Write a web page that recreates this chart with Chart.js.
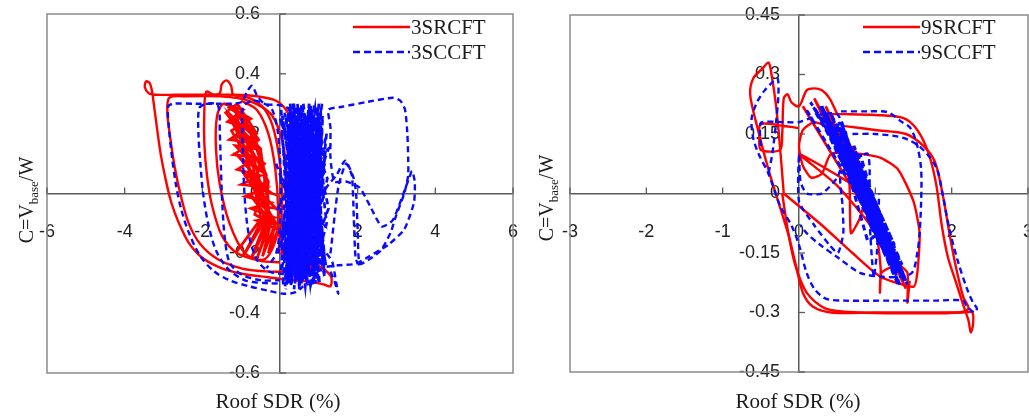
<!DOCTYPE html>
<html><head><meta charset="utf-8">
<script src="https://cdn.jsdelivr.net/npm/chart.js@4.4.1/dist/chart.umd.min.js"></script>
<style>
html,body{margin:0;padding:0;background:#fff;}
#wrap{position:relative;width:1029px;height:416px;overflow:hidden;background:#fff;}
#c1{position:absolute;left:0;top:0;}
#c2{position:absolute;left:520px;top:0;}
</style></head><body>
<div id="wrap"><canvas id="c1" width="520" height="416"></canvas><canvas id="c2" width="509" height="416"></canvas></div>
<script>
// ---------- Left panel: 3-storey frames ----------
const leftSeriesNames = ['3SRCFT', '3SCCFT'];
const leftXTicks = [-6, -4, -2, 0, 2, 4, 6];
const leftXTickLabels = ['-6', '-4', '-2', '0', '2', '4', '6'];
const leftYTicks = [-0.6, -0.4, -0.2, 0, 0.2, 0.4, 0.6];
const leftYTickLabels = ['-0.6', '-0.4', '-0.2', '0', '0.2', '0.4', '0.6'];

// 3SRCFT (roof SDR %, C)
const sr3Outer = [[0.35,0.18],[0.2,0.27],[-0.1,0.31],[-0.6,0.325],[-1.2,0.33],[-2.0,0.33],[-2.7,0.33],[-3.2,0.33],[-3.38,0.335],[-3.48,0.355],[-3.45,0.375],[-3.36,0.37],[-3.3,0.345],[-3.25,0.3],[-3.17,0.22],[-3.07,0.13],[-2.95,0.05],[-2.8,-0.03],[-2.6,-0.1],[-2.35,-0.165],[-2.0,-0.215],[-1.5,-0.25],[-0.9,-0.27],[-0.3,-0.28],[0.3,-0.29],[0.8,-0.295],[1.15,-0.305],[1.3,-0.31],[1.32,-0.28],[1.15,-0.255],[0.9,-0.235],[0.75,-0.22]];
const sr3Loop2 = [[0.3,-0.2],[0.2,0.0],[0.1,0.15],[-0.2,0.26],[-0.8,0.31],[-1.6,0.325],[-2.4,0.325],[-2.85,0.32],[-2.9,0.27],[-2.82,0.18],[-2.7,0.08],[-2.55,-0.01],[-2.35,-0.1],[-2.05,-0.17],[-1.6,-0.22],[-1.0,-0.25],[-0.4,-0.26],[0.1,-0.26],[0.4,-0.24]];
const sr3Loop3 = [[0.0,-0.23],[-0.5,-0.225],[-1.1,-0.2],[-1.5,-0.14],[-1.75,-0.04],[-1.88,0.06],[-1.95,0.17],[-1.95,0.27],[-1.9,0.34],[-1.7,0.33],[-1.55,0.335],[-1.5,0.365],[-1.38,0.378],[-1.26,0.36],[-1.2,0.33],[-0.8,0.32],[-0.45,0.29],[-0.2,0.23],[-0.02,0.12],[0.05,0.0],[0.02,-0.12],[-0.05,-0.2]];
const sr3Arcs = [[-1.0,0.31],[-0.6,0.28],[-0.3,0.2],[-0.12,0.08],[-0.05,-0.05],[-0.1,-0.15],[-0.4,-0.22],[-0.9,-0.2],[-1.3,-0.1],[-1.55,0.03],[-1.65,0.15],[-1.62,0.26],[-1.45,0.3],[-1.1,0.27],[-0.7,0.2],[-0.45,0.1],[-0.3,-0.02],[-0.35,-0.12]];
const sr3Dense = [[-1.45,0.3],[-0.95,0.28],[-1.35,0.24],[-0.85,0.22],[-1.3,0.18],[-0.7,0.17],[-1.2,0.13],[-0.6,0.12],[-1.1,0.08],[-0.5,0.06],[-1.0,0.03],[-0.35,0.02],[-0.9,-0.01],[-0.25,-0.03],[-0.75,-0.05],[-0.15,-0.08],[-0.6,-0.09],[-0.05,-0.12],[-0.4,-0.1],[-0.3,0.04],[-0.95,0.2],[-1.4,0.27],[-1.1,0.3],[-0.6,0.2],[-1.0,0.17],[-0.45,0.1],[-0.85,0.06],[-0.2,0.0],[-0.65,0.02],[-0.1,-0.05],[-0.55,-0.04],[-0.85,0.12],[-1.25,0.21],[-0.75,0.25],[-1.15,0.28],[-0.8,0.08],[-0.4,-0.02],[-0.7,0.13],[-1.05,0.22],[-0.5,0.15],[-0.25,-0.1],[-0.3,-0.05],[-1.15,-0.2],[-0.35,-0.06],[-0.95,-0.21],[-0.3,-0.07],[-0.75,-0.22],[-0.25,-0.08],[-0.6,-0.22],[-0.2,-0.08],[-0.45,-0.21],[-0.12,-0.1],[-0.3,-0.2],[-0.05,-0.12],[0.05,-0.17],[0.2,-0.17],[0.2,-0.2],[0.05,-0.2],[0.05,-0.17],[0.3,-0.25],[0.5,0.05],[0.4,-0.28],[0.7,-0.1],[0.55,-0.3],[0.9,0.0],[0.8,-0.27],[0.35,0.15],[0.6,-0.2]];
const sr3Dense2 = [[-1.3,0.3],[-0.75,0.2],[-1.25,0.26],[-0.65,0.15],[-1.15,0.16],[-0.55,0.08],[-1.05,0.12],[-0.45,0.03],[-0.95,0.07],[-0.3,-0.06],[-0.8,0.0],[-0.2,-0.1],[-0.65,-0.07],[-0.35,0.06],[-0.9,0.25],[-1.35,0.29],[-1.0,0.26],[-0.55,0.18],[-0.95,0.14],[-0.4,0.1],[-0.75,0.04],[-0.1,-0.1],[-0.5,-0.08],[-0.7,0.1],[-1.2,0.23],[-0.85,0.18]];

// 3SCCFT
const sc3Left1 = [[0.3,0.28],[0.0,0.295],[-0.4,0.3],[-0.6,0.33],[-0.72,0.36],[-0.85,0.34],[-1.0,0.305],[-1.6,0.3],[-2.2,0.3],[-2.75,0.3],[-2.88,0.29],[-2.86,0.22],[-2.78,0.12],[-2.68,0.03],[-2.55,-0.05],[-2.35,-0.13],[-2.05,-0.21],[-1.7,-0.26],[-1.3,-0.29],[-0.8,-0.31],[-0.3,-0.325],[0.1,-0.335],[0.4,-0.33],[0.6,-0.31]];
const sc3Left2 = [[0.2,-0.3],[-0.3,-0.3],[-0.9,-0.29],[-1.35,-0.25],[-1.65,-0.19],[-1.85,-0.1],[-1.98,0.0],[-2.05,0.1],[-2.1,0.2],[-2.08,0.285],[-1.9,0.3],[-1.6,0.295],[-1.55,0.2],[-1.52,0.08],[-1.48,-0.05],[-1.42,-0.15],[-1.3,-0.23],[-1.0,-0.27],[-0.5,-0.29],[0.0,-0.29]];
const sc3Left3 = [[0.1,-0.27],[-0.3,-0.26],[-0.6,-0.22],[-0.8,-0.14],[-0.9,-0.03],[-0.95,0.1],[-0.97,0.22],[-0.95,0.29],[-0.7,0.31],[-0.4,0.3],[-0.2,0.28],[-0.05,0.2],[0.02,0.05],[0.0,-0.1],[-0.1,-0.2],[-0.35,-0.25]];
const sc3Dense = [[0.05,0.2],[0.4,-0.28],[0.2,0.27],[0.7,-0.3],[0.35,0.22],[0.9,-0.26],[0.5,0.29],[1.0,-0.2],[0.6,0.25],[0.3,-0.3],[0.8,0.28],[1.1,-0.22],[0.7,0.2],[0.15,-0.27],[0.45,0.3],[0.95,-0.29],[1.05,0.18],[0.55,-0.25],[0.25,0.2],[0.85,-0.31],[1.15,0.1],[0.65,-0.15],[0.4,0.26],[0.75,-0.27],[1.0,0.27],[0.5,-0.32],[0.2,0.15],[0.6,-0.2],[0.9,0.24],[1.2,-0.1],[0.8,-0.3],[0.3,0.28],[0.1,-0.2],[0.55,0.22],[1.05,-0.26],[0.75,0.3],[0.35,-0.22],[0.65,0.18],[0.95,-0.2],[1.1,0.26],[0.45,-0.29],[0.15,0.1],[0.85,0.2],[1.25,-0.05],[0.6,-0.28],[0.25,0.25],[0.7,-0.22],[1.0,0.12],[0.4,-0.15],[0.9,0.28],[1.15,-0.28],[0.5,0.15],[0.2,-0.25],[0.8,0.25],[0.35,-0.1],[1.0,0.3],[0.65,-0.31],[0.12,0.22],[0.55,-0.18],[1.2,0.2],[0.85,-0.24],[0.45,0.08],[0.75,-0.12],[0.3,0.12],[1.05,-0.15],[0.6,0.3]];
const sc3Dense2 = [[0.08,-0.3],[0.32,0.25],[0.18,-0.22],[0.62,0.27],[0.28,-0.31],[0.72,0.24],[0.42,-0.26],[0.98,0.22],[0.58,-0.29],[0.88,0.3],[0.68,-0.26],[1.08,0.22],[0.78,-0.2],[0.22,0.29],[0.92,-0.3],[0.38,0.18],[1.12,-0.18],[0.52,0.26],[0.02,-0.15],[0.48,0.2],[0.82,-0.28],[0.12,0.27],[1.02,-0.3],[0.66,0.22],[0.26,-0.24],[0.96,0.16],[0.36,-0.32],[0.76,0.14],[1.18,-0.24],[0.56,0.3],[0.16,-0.12],[0.86,0.1],[0.46,-0.22],[1.08,0.3],[0.62,-0.24],[0.06,0.26],[0.72,-0.31],[0.32,0.16],[0.94,-0.14],[0.52,0.28],[1.22,0.05],[0.82,-0.18],[0.42,0.24],[0.22,-0.3],[0.68,0.26],[1.0,-0.3],[0.58,0.2],[0.14,-0.28],[0.78,0.3],[1.14,-0.2],[0.36,0.3],[0.64,-0.26],[0.9,0.18],[0.5,-0.31],[0.26,0.3],[0.74,-0.18],[1.04,0.24],[0.44,-0.26],[0.84,0.28],[0.18,-0.18],[0.6,0.22]];
const sc3Dense3 = [[-0.1,0.1],[0.3,-0.05],[-0.05,-0.2],[0.5,0.1],[0.0,0.25],[0.65,0.0],[0.1,-0.12],[0.95,0.05],[0.2,0.0],[1.1,-0.1],[0.4,0.05],[1.25,0.15],[0.7,-0.05],[0.05,0.05],[0.9,-0.1],[0.3,0.2],[1.15,0.0],[-0.05,-0.05],[0.6,0.12],[0.15,-0.32]];
const sc3Dense4 = [[0.03,0.28],[0.27,-0.29],[0.47,0.27],[0.13,-0.31],[0.57,0.24],[0.37,-0.27],[0.87,0.26],[0.67,-0.29],[0.97,0.29],[0.77,-0.24],[1.07,0.2],[0.87,-0.3],[0.33,0.3],[0.53,-0.3],[0.73,0.28],[0.93,-0.25],[0.63,0.26],[0.43,-0.24],[0.23,0.27],[0.03,-0.26],[0.83,0.22],[1.13,-0.25],[0.48,0.29],[0.18,-0.3],[0.98,0.25],[0.58,-0.27],[0.38,0.22],[0.78,-0.3],[1.18,0.15],[0.68,-0.2]];
const sc3Right = [[1.2,-0.245],[1.5,-0.24],[1.95,-0.235],[2.3,-0.21],[2.8,-0.17],[3.2,-0.12],[3.45,-0.03],[3.47,0.04],[3.4,0.075],[3.32,0.05],[3.15,-0.01],[2.9,-0.09],[2.62,-0.11],[2.35,-0.05],[2.05,0.02],[1.7,0.04],[1.4,0.04],[1.3,0.12],[1.3,0.22],[1.25,0.28],[1.6,0.29],[2.2,0.305],[2.9,0.32],[3.1,0.31],[3.22,0.28],[3.28,0.2],[3.3,0.12],[3.3,0.06],[3.2,0.0],[3.0,-0.07],[2.85,-0.13],[2.6,-0.19],[2.3,-0.22],[2.05,-0.235],[2.0,-0.12],[1.96,0.0],[1.9,0.05],[1.68,0.11],[1.45,0.06],[1.25,0.03],[1.1,0.0]];
const sc3Peak = [[1.3,-0.2],[1.5,0.02],[1.7,0.1],[1.85,0.06],[1.9,-0.08],[1.95,-0.22],[2.05,-0.24]];
const sc3Tail = [[1.2,-0.2],[1.35,-0.23],[1.45,-0.3],[1.5,-0.335],[1.42,-0.3],[1.3,-0.26]];

// ---------- Right panel: 9-storey frames ----------
const rightSeriesNames = ['9SRCFT', '9SCCFT'];
const rightXTicks = [-3, -2, -1, 0, 1, 2, 3];
const rightXTickLabels = ['-3', '-2', '-1', '0', '1', '2', '3'];
const rightYTicks = [-0.45, -0.3, -0.15, 0, 0.15, 0.3, 0.45];
const rightYTickLabels = ['-0.45', '-0.3', '-0.15', '0', '0.15', '0.3', '0.45'];

// 9SRCFT
const sr9Outer = [[0.3,0.2],[0.6,0.2],[1.0,0.198],[1.37,0.19],[1.55,0.16],[1.7,0.1],[1.8,0.02],[1.87,-0.08],[1.95,-0.16],[2.05,-0.22],[2.15,-0.28],[2.22,-0.32],[2.25,-0.35],[2.28,-0.33],[2.27,-0.3],[2.15,-0.3],[1.6,-0.3],[1.0,-0.3],[0.42,-0.3],[0.18,-0.285],[0.05,-0.25],[-0.03,-0.19],[-0.13,-0.11],[-0.24,-0.04],[-0.4,0.06],[-0.55,0.17],[-0.64,0.25],[-0.6,0.29],[-0.48,0.315],[-0.4,0.33],[-0.36,0.3],[-0.3,0.22],[-0.25,0.12],[-0.2,0.0]];
const sr9Loop2 = [[-0.22,0.0],[-0.14,-0.1],[-0.05,-0.18],[0.1,-0.25],[0.35,-0.29],[0.8,-0.3],[1.5,-0.302],[2.1,-0.3],[2.22,-0.29],[2.15,-0.26],[2.05,-0.18],[1.97,-0.1],[1.88,0.0],[1.78,0.08],[1.63,0.12],[1.4,0.15],[1.0,0.16],[0.6,0.17]];
const sr9Top = [[0.0,0.165],[-0.2,0.17],[-0.5,0.175],[-0.52,0.14],[-0.5,0.11],[-0.25,0.11],[-0.22,0.15],[-0.2,0.24],[-0.15,0.25],[-0.1,0.23],[0.0,0.22],[0.1,0.26],[0.2,0.265],[0.3,0.26],[0.4,0.24],[0.5,0.2]];
const sr9Inner = [[-0.2,0.0],[0.3,-0.08],[0.7,-0.15],[1.07,-0.21],[1.5,-0.235],[1.55,-0.2],[1.58,-0.1],[1.5,-0.02],[1.3,0.06],[1.07,0.09],[0.8,0.1],[0.42,0.1],[0.3,0.05],[0.16,0.04],[0.05,0.07],[0.0,0.12],[0.05,0.16],[0.2,0.18],[0.42,0.16],[0.65,0.05],[0.68,-0.1],[0.8,-0.06],[0.85,0.0],[0.0,0.1],[0.5,0.02],[1.0,-0.1],[1.07,-0.19],[1.06,-0.25],[1.08,-0.2],[1.3,-0.18],[1.42,-0.2],[1.42,-0.275],[1.45,-0.22]];
const sr9Dense = [[0.05,0.22],[0.9,-0.05],[0.3,0.2],[1.15,-0.14],[0.45,0.16],[1.3,-0.2],[0.6,0.1],[1.4,-0.24],[0.75,0.04],[0.2,0.24],[1.0,-0.08],[0.5,0.17],[1.2,-0.17],[0.7,0.12],[1.35,-0.22],[0.85,0.02],[0.35,0.22],[1.1,-0.12]];

// 9SCCFT
const sc9Outer = [[0.55,0.207],[0.9,0.207],[1.16,0.205],[1.35,0.18],[1.46,0.165],[1.55,0.12],[1.6,0.06],[1.6,-0.02],[1.58,-0.1],[1.55,-0.15],[1.48,-0.2],[1.3,-0.21],[1.1,-0.21],[0.8,-0.2],[0.5,-0.16],[0.28,-0.13],[0.1,-0.1],[0.02,-0.08]];
const sc9Big = [[0.7,0.15],[1.0,0.15],[1.37,0.14],[1.6,0.115],[1.8,0.065],[1.88,0.0],[1.97,-0.09],[2.08,-0.17],[2.2,-0.24],[2.28,-0.275],[2.33,-0.29],[2.3,-0.3],[2.2,-0.285],[2.15,-0.27],[1.8,-0.27],[1.2,-0.27],[0.6,-0.27],[0.35,-0.265],[0.2,-0.24],[0.1,-0.2],[0.0,-0.13],[-0.1,-0.08],[-0.25,-0.03],[-0.4,0.05],[-0.53,0.1],[-0.6,0.14],[-0.62,0.19],[-0.55,0.23],[-0.45,0.26],[-0.35,0.28],[-0.28,0.29],[-0.27,0.25],[-0.3,0.18],[-0.35,0.1],[-0.4,0.05]];
const sc9Small = [[-0.5,0.12],[-0.5,0.178],[-0.2,0.18],[0.0,0.18],[0.3,0.2],[0.5,0.2],[0.62,0.15],[0.6,0.1],[0.5,0.04],[0.3,0.0],[0.1,0.0],[0.02,0.03],[0.0,0.1],[0.0,-0.02],[0.2,-0.08],[0.4,-0.13],[0.51,-0.15],[0.58,-0.1],[0.57,-0.03],[0.55,0.05],[0.9,0.1],[0.92,-0.05],[0.95,-0.15],[0.98,-0.21],[1.02,-0.15],[1.05,0.0]];
const sc9Dense = [[0.1,0.21],[0.85,-0.03],[0.25,0.2],[1.05,-0.1],[0.4,0.18],[1.2,-0.16],[0.55,0.13],[1.35,-0.21],[0.7,0.07],[1.42,-0.23],[0.8,0.02],[0.3,0.22],[0.95,-0.06],[0.5,0.15],[1.15,-0.13],[0.65,0.12],[1.3,-0.19],[0.75,0.05],[1.25,-0.2],[0.6,0.1],[0.15,0.23],[0.9,-0.01],[0.45,0.17],[1.1,-0.11],[0.35,0.19],[1.0,-0.06],[0.55,0.09],[1.38,-0.22],[0.85,0.0],[0.2,0.21]];
const sc9Dense2 = [[0.3,0.19],[1.1,-0.14],[0.45,0.14],[1.28,-0.2],[0.62,0.08],[1.4,-0.22],[0.52,0.18],[1.22,-0.18],[0.4,0.16],[1.02,-0.08],[0.68,0.1],[1.32,-0.23],[0.72,0.02],[0.28,0.22],[0.98,-0.1],[0.58,0.14],[1.18,-0.15],[0.82,0.05],[1.36,-0.2],[0.48,0.11],[0.9,-0.04],[0.36,0.2],[1.06,-0.13],[0.66,0.06],[1.26,-0.17],[0.78,-0.01],[0.42,0.18],[1.14,-0.16]];
const sc9Dense3 = [[0.35,0.2],[1.0,-0.1],[0.55,0.18],[1.3,-0.2],[0.65,0.1],[1.2,-0.12],[0.5,0.12],[1.0,-0.02],[0.42,0.2],[1.15,-0.15],[0.78,0.08],[1.38,-0.21],[0.7,0.05],[0.98,-0.08],[0.6,0.15],[1.25,-0.13],[0.88,0.03],[1.35,-0.18],[0.95,-0.03],[0.52,0.17],[1.08,-0.06],[0.72,0.12],[1.22,-0.19],[0.82,-0.02],[0.45,0.15],[1.12,-0.09],[0.9,-0.12],[0.62,0.07],[1.3,-0.23],[0.8,0.1]];

// ---------- drawing ----------
const RED = '#ff0000', BLUE = '#0a0aff';
const toPts = arr => arr.map(([x, y]) => ({x, y}));
function ds(arr, color, dashed, tension, width) {
  return {
    data: toPts(arr), showLine: true, borderColor: color, backgroundColor: color,
    borderWidth: width || 2.4, borderDash: dashed ? [6, 4] : [], pointRadius: 0, pointHoverRadius: 0,
    tension: tension, order: dashed ? 1 : 2, fill: false
  };
}

const decor = {
  id: 'decor',
  beforeDatasetsDraw(chart, args, o) {
    const {ctx, chartArea: a, scales: {x, y}} = chart;
    ctx.save();
    ctx.strokeStyle = '#8a8a8a'; ctx.lineWidth = 1.5;
    ctx.strokeRect(a.left, a.top, a.right - a.left, a.bottom - a.top);
    ctx.strokeStyle = '#5a5a5a'; ctx.lineWidth = 1.3;
    const x0 = x.getPixelForValue(0), y0 = y.getPixelForValue(0);
    x.ticks.forEach(t => { const p = x.getPixelForValue(t.value); ctx.beginPath(); ctx.moveTo(p, y0); ctx.lineTo(p, y0 - 6); ctx.stroke(); });
    y.ticks.forEach(t => { const p = y.getPixelForValue(t.value); ctx.beginPath(); ctx.moveTo(x0, p); ctx.lineTo(x0 + 6, p); ctx.stroke(); });
    ctx.restore();
  },
  afterDraw(chart, args, o) {
    const ctx = chart.ctx;
    ctx.save();
    ctx.fillStyle = '#1a1a1a';
    ctx.font = '21px "Liberation Serif", "Times New Roman", serif';
    ctx.textAlign = 'center'; ctx.textBaseline = 'alphabetic';
    ctx.fillText('Roof SDR (%)', o.xTitleX, 408);
    ctx.translate(o.yTitleX, o.yTitleY);
    ctx.rotate(-Math.PI / 2);
    const fMain = '20px "Liberation Serif", serif', fSub = '13px "Liberation Serif", serif';
    ctx.font = fMain; const w1 = ctx.measureText('C=V').width, w3 = ctx.measureText('/W').width;
    ctx.font = fSub; const w2 = ctx.measureText('base').width;
    let sx = -(w1 + w2 + w3) / 2;
    ctx.textAlign = 'left';
    ctx.font = fMain; ctx.fillText('C=V', sx, 0); sx += w1;
    ctx.font = fSub; ctx.fillText('base', sx, 5); sx += w2;
    ctx.font = fMain; ctx.fillText('/W', sx, 0);
    ctx.restore();
    ctx.save();
    ctx.font = '21px "Liberation Serif", serif';
    ctx.textBaseline = 'middle'; ctx.textAlign = 'left'; ctx.fillStyle = '#1a1a1a';
    o.legend.forEach((it, i) => {
      const yy = 27 + i * 25;
      ctx.strokeStyle = it.color; ctx.lineWidth = 2.6;
      ctx.setLineDash(it.dashed ? [7, 4] : []);
      ctx.beginPath(); ctx.moveTo(o.legX, yy); ctx.lineTo(o.legX + 57, yy); ctx.stroke();
      ctx.fillText(it.name, o.legX + 58, yy + 1);
    });
    ctx.restore();
  }
};

function zeroFit(s, horiz) {
  if (horiz) s.height = 0; else s.width = 0;
  s.paddingLeft = 0; s.paddingRight = 0; s.paddingTop = 0; s.paddingBottom = 0;
}

function makeChart(id, datasets, xr, yr, xt, xtl, yt, ytl, pad, ygap, plugOpts) {
  return new Chart(document.getElementById(id), {
    type: 'scatter',
    data: {datasets},
    plugins: [decor],
    options: {
      responsive: false, animation: false, devicePixelRatio: 1,
      layout: {padding: pad},
      plugins: {legend: {display: false}, tooltip: {enabled: false}, decor: plugOpts},
      scales: {
        x: {
          type: 'linear', min: xr[0], max: xr[1], position: {y: 0},
          afterBuildTicks: s => { s.ticks = xt.map(v => ({value: v})); },
          afterFit: s => zeroFit(s, true),
          grid: {display: true, drawOnChartArea: false, drawTicks: false},
          border: {display: true, color: '#5a5a5a', width: 1.5},
          ticks: {padding: 0, autoSkip: false, maxRotation: 0, color: '#222',
            font: {family: '"Liberation Sans", Arial, sans-serif', size: 18, lineHeight: 4.3},
            callback: (v, i) => xtl[i]}
        },
        y: {
          type: 'linear', min: yr[0], max: yr[1], position: {x: 0},
          afterBuildTicks: s => { s.ticks = yt.map(v => ({value: v})); },
          afterFit: s => zeroFit(s, false),
          grid: {display: true, drawOnChartArea: false, drawTicks: false},
          border: {display: true, color: '#5a5a5a', width: 1.5},
          ticks: {padding: 0, autoSkip: false, color: '#222',
            font: {family: '"Liberation Sans", Arial, sans-serif', size: 18},
            callback: (v, i) => ytl[i] + ygap}
        }
      }
    }
  });
}

const leftDatasets = [
  ds(sr3Dense, RED, false, 0, 2.7), ds(sr3Dense2, RED, false, 0, 2.7), ds(sr3Outer, RED, false, 0.3), ds(sr3Loop2, RED, false, 0.3),
  ds(sr3Loop3, RED, false, 0.3), ds(sr3Arcs, RED, false, 0.3),
  ds(sc3Left1, BLUE, true, 0.3), ds(sc3Left2, BLUE, true, 0.3), ds(sc3Left3, BLUE, true, 0.3),
  ds(sc3Dense, BLUE, true, 0, 2.7), ds(sc3Dense2, BLUE, true, 0, 2.7), ds(sc3Dense3, BLUE, true, 0, 2.7), ds(sc3Dense4, BLUE, true, 0, 2.7),
  ds(sc3Right, BLUE, true, 0.2), ds(sc3Peak, BLUE, true, 0.2), ds(sc3Tail, BLUE, true, 0.2)
];
const rightDatasets = [
  ds(sr9Dense, RED, false, 0, 2.7), ds(sr9Outer, RED, false, 0.3), ds(sr9Loop2, RED, false, 0.3),
  ds(sr9Top, RED, false, 0.3), ds(sr9Inner, RED, false, 0.2),
  ds(sc9Outer, BLUE, true, 0.3), ds(sc9Big, BLUE, true, 0.3), ds(sc9Small, BLUE, true, 0.2),
  ds(sc9Dense, BLUE, true, 0, 3), ds(sc9Dense2, BLUE, true, 0, 3), ds(sc9Dense3, BLUE, true, 0, 3)
];

makeChart('c1', leftDatasets, [-6, 6], [-0.6, 0.6], leftXTicks, leftXTickLabels, leftYTicks, leftYTickLabels,
  {left: 47, right: 7, top: 14, bottom: 43}, '\u2007\u2007',
  {xTitleX: 278, yTitleX: 33, yTitleY: 200, legX: 353,
   legend: [{name: leftSeriesNames[0], color: RED, dashed: false}, {name: leftSeriesNames[1], color: BLUE, dashed: true}]});
makeChart('c2', rightDatasets, [-3, 3], [-0.45, 0.45], rightXTicks, rightXTickLabels, rightYTicks, rightYTickLabels,
  {left: 50, right: 1, top: 15, bottom: 44}, '\u2007\u2002',
  {xTitleX: 278, yTitleX: 33, yTitleY: 198, legX: 343,
   legend: [{name: rightSeriesNames[0], color: RED, dashed: false}, {name: rightSeriesNames[1], color: BLUE, dashed: true}]});
</script>
</body></html>
